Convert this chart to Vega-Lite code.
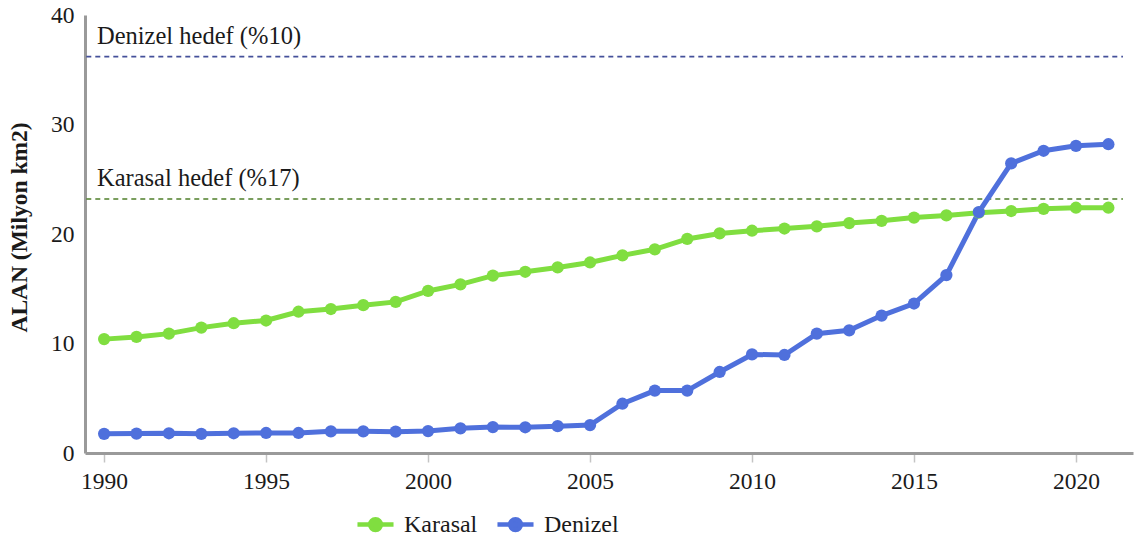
{
  "$schema": "https://vega.github.io/schema/vega-lite/v6.json",
  "autosize": "none",
  "width": 1048,
  "height": 438,
  "padding": {"left": 85, "top": 15, "right": 4, "bottom": 96},
  "background": "white",
  "config": {
    "view": {"stroke": null},
    "font": "Liberation Serif",
    "axis": {"labelFont": "Liberation Serif", "titleFont": "Liberation Serif", "labelColor": "#1a1a1a", "titleColor": "#1a1a1a", "grid": false},
    "legend": {"labelFont": "Liberation Serif"},
    "text": {"font": "Liberation Serif"}
  },
  "datasets": {
    "seriler": [
      {"yil": 1990, "Karasal": 10.4, "Denizel": 1.75},
      {"yil": 1991, "Karasal": 10.6, "Denizel": 1.77},
      {"yil": 1992, "Karasal": 10.9, "Denizel": 1.8},
      {"yil": 1993, "Karasal": 11.45, "Denizel": 1.75},
      {"yil": 1994, "Karasal": 11.85, "Denizel": 1.8},
      {"yil": 1995, "Karasal": 12.1, "Denizel": 1.83},
      {"yil": 1996, "Karasal": 12.9, "Denizel": 1.83},
      {"yil": 1997, "Karasal": 13.15, "Denizel": 1.98},
      {"yil": 1998, "Karasal": 13.5, "Denizel": 1.98},
      {"yil": 1999, "Karasal": 13.8, "Denizel": 1.95},
      {"yil": 2000, "Karasal": 14.8, "Denizel": 2.0},
      {"yil": 2001, "Karasal": 15.4, "Denizel": 2.25},
      {"yil": 2002, "Karasal": 16.2, "Denizel": 2.37},
      {"yil": 2003, "Karasal": 16.55, "Denizel": 2.35},
      {"yil": 2004, "Karasal": 16.95, "Denizel": 2.45},
      {"yil": 2005, "Karasal": 17.4, "Denizel": 2.55},
      {"yil": 2006, "Karasal": 18.05, "Denizel": 4.5},
      {"yil": 2007, "Karasal": 18.6, "Denizel": 5.7},
      {"yil": 2008, "Karasal": 19.55, "Denizel": 5.7},
      {"yil": 2009, "Karasal": 20.05, "Denizel": 7.4},
      {"yil": 2010, "Karasal": 20.3, "Denizel": 9.0},
      {"yil": 2011, "Karasal": 20.5, "Denizel": 8.95},
      {"yil": 2012, "Karasal": 20.7, "Denizel": 10.9},
      {"yil": 2013, "Karasal": 21.0, "Denizel": 11.2},
      {"yil": 2014, "Karasal": 21.2, "Denizel": 12.55},
      {"yil": 2015, "Karasal": 21.5, "Denizel": 13.65},
      {"yil": 2016, "Karasal": 21.7, "Denizel": 16.25},
      {"yil": 2017, "Karasal": 21.95, "Denizel": 22.0},
      {"yil": 2018, "Karasal": 22.1, "Denizel": 26.45},
      {"yil": 2019, "Karasal": 22.3, "Denizel": 27.6},
      {"yil": 2020, "Karasal": 22.4, "Denizel": 28.05},
      {"yil": 2021, "Karasal": 22.4, "Denizel": 28.2}
    ],
    "hedefler": [
      {"tur": "Denizel", "etiket": "Denizel hedef (%10)", "deger": 36.2},
      {"tur": "Karasal", "etiket": "Karasal hedef (%17)", "deger": 23.2}
    ]
  },
  "layer": [
    {
      "data": {"name": "hedefler"},
      "transform": [{"filter": "datum.tur === 'Denizel'"}],
      "mark": {"type": "rule", "color": "#44509a", "strokeWidth": 1.6, "strokeDash": [5, 4]},
      "encoding": {
        "x": {"datum": 1989.45, "type": "quantitative"},
        "x2": {"datum": 2021.45},
        "y": {"field": "deger", "type": "quantitative"}
      }
    },
    {
      "data": {"name": "hedefler"},
      "transform": [{"filter": "datum.tur === 'Karasal'"}],
      "mark": {"type": "rule", "color": "#4f7f2a", "strokeWidth": 1.6, "strokeDash": [5, 4]},
      "encoding": {
        "x": {"datum": 1989.45, "type": "quantitative"},
        "x2": {"datum": 2021.45},
        "y": {"field": "deger", "type": "quantitative"}
      }
    },
    {
      "data": {"name": "hedefler"},
      "mark": {"type": "text", "align": "left", "baseline": "alphabetic", "dy": -13, "font": "Liberation Serif", "fontSize": 24.5, "color": "#1a1a1a"},
      "encoding": {
        "x": {"datum": 1989.78, "type": "quantitative"},
        "y": {"field": "deger", "type": "quantitative"},
        "text": {"field": "etiket"}
      }
    },
    {
      "data": {"name": "seriler"},
      "transform": [{"fold": ["Karasal", "Denizel"], "as": ["seri", "alan"]}],
      "mark": {"type": "line", "strokeWidth": 5, "point": {"filled": true, "size": 150}},
      "encoding": {
        "x": {
          "field": "yil", "type": "quantitative",
          "scale": {"domain": [1989.41, 2021.76], "nice": false, "zero": false},
          "axis": {"title": null, "values": [1990, 1995, 2000, 2005, 2010, 2015, 2020], "format": "d", "labelFontSize": 23.5, "labelPadding": 7, "tickSize": 9, "tickColor": "#c4c4c4", "tickWidth": 1.5, "domainColor": "#9a9a9a", "domainWidth": 3, "labelFlush": false}
        },
        "y": {
          "field": "alan", "type": "quantitative",
          "scale": {"domain": [0, 40], "nice": false},
          "axis": {"title": "ALAN (Milyon km2)", "titleFontSize": 23.5, "titleFontWeight": "bold", "titlePadding": 19, "titleY": 212, "values": [0, 10, 20, 30, 40], "labelFontSize": 23.5, "labelPadding": 11, "ticks": false, "domainColor": "#9a9a9a", "domainWidth": 3}
        },
        "color": {
          "field": "seri", "type": "nominal",
          "scale": {"domain": ["Karasal", "Denizel"], "range": ["#80de40", "#4f70dc"]},
          "legend": {
            "title": null, "orient": "none", "direction": "horizontal",
            "legendX": 270, "legendY": 489,
            "symbolType": "M-1,0L1,0M-0.3,0A0.3,0.3,0,1,0,0.3,0A0.3,0.3,0,1,0,-0.3,0Z",
            "symbolSize": 1300, "symbolStrokeWidth": 4.5,
            "labelFont": "Liberation Serif", "labelFontSize": 24, "labelColor": "#1a1a1a",
            "labelOffset": 8, "columnPadding": 10,
            "encode": {"symbols": {"update": {"fill": {"scale": "color", "field": "value"}, "stroke": {"scale": "color", "field": "value"}, "opacity": {"value": 1}}}}
          }
        }
      }
    }
  ]
}
